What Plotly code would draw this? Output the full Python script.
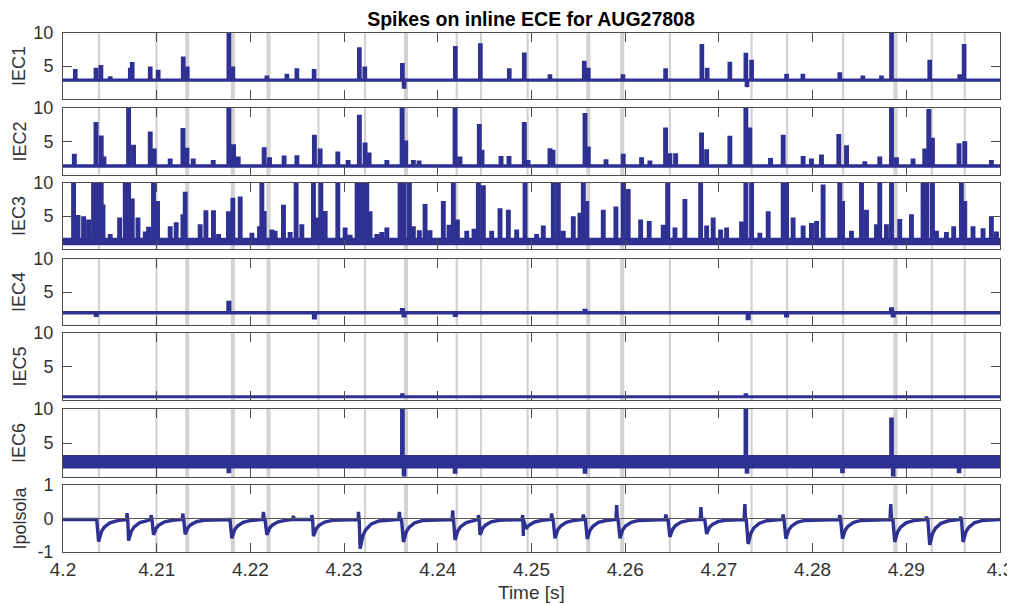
import plotly.graph_objects as go
from plotly.subplots import make_subplots

# ---------------- data ----------------
t_start, t_end = 4.2, 4.3
channel_names = ["IEC1", "IEC2", "IEC3", "IEC4", "IEC5", "IEC6", "Ipolsola"]
x_title = "Time [s]"
plot_title = "Spikes on inline ECE for AUG27808"

x_tick_vals = [4.2, 4.21, 4.22, 4.23, 4.24, 4.25, 4.26, 4.27, 4.28, 4.29, 4.3]
x_tick_text = ["4.2", "4.21", "4.22", "4.23", "4.24", "4.25", "4.26", "4.27", "4.28", "4.29", "4.3"]
iec_tick_vals = [5, 10]
ipol_tick_vals = [-1, 0, 1]
ipol_tick_text = ["-1", "0", "1"]

# ELM marker times (grey vertical lines); close pairs show as the thicker lines
elm_times = [4.20384, 4.20998, 4.21316, 4.21336, 4.21803, 4.21823, 4.22183, 4.22203,
             4.22726, 4.23224, 4.23651, 4.23671, 4.24202, 4.24461, 4.24959, 4.25275,
             4.25596, 4.25616, 4.25958, 4.25978, 4.26477, 4.27349, 4.27728, 4.28326,
             4.28874, 4.28894, 4.29272, 4.29624]

iec1_base = 2.85
iec1_t = [4.20131, 4.20352, 4.20405, 4.20504, 4.20718, 4.20739, 4.20931, 4.21016, 4.21283,
          4.21326, 4.21770, 4.21813, 4.22176, 4.22389, 4.22496, 4.22680, 4.23163, 4.23221,
          4.23622, 4.23640, 4.24187, 4.24454, 4.24763, 4.24923, 4.25197, 4.25563, 4.25606,
          4.25976, 4.26431, 4.26818, 4.26875, 4.27117, 4.27288, 4.27300, 4.27349, 4.27722,
          4.27896, 4.28290, 4.28536, 4.28735, 4.28842, 4.29250, 4.29570, 4.29617]
iec1_v = [4.3, 4.5, 4.9, 3.2, 4.5, 5.35, 4.7, 4.2, 6.2,
          4.7, 9.75, 4.7, 3.3, 3.6, 4.4, 4.3, 7.6, 4.7,
          5.2, 1.8, 7.8, 8.2, 4.4, 6.8, 3.5, 5.55, 4.5,
          3.5, 4.4, 8.1, 4.5, 5.4, 7.0, 1.8, 5.7, 3.6,
          3.6, 3.8, 3.3, 3.3, 10.3, 5.7, 3.5, 8.1]

iec2_base = 1.35
iec2_t = [4.20121, 4.20352, 4.20408, 4.20437, 4.20700, 4.20753, 4.20931, 4.20974, 4.21144,
          4.21280, 4.21323, 4.21390, 4.21603, 4.21770, 4.21820, 4.21870, 4.22147, 4.22204,
          4.22360, 4.22496, 4.22683, 4.22744, 4.22933, 4.23043, 4.23163, 4.23224, 4.23267,
          4.23456, 4.23619, 4.23658, 4.23739, 4.23800, 4.24184, 4.24237, 4.24443, 4.24472,
          4.24675, 4.24760, 4.24923, 4.24963, 4.25197, 4.25229, 4.25571, 4.25606, 4.25795,
          4.25979, 4.26175, 4.26264, 4.26431, 4.26477, 4.26538, 4.26815, 4.26869, 4.27117,
          4.27288, 4.27330, 4.27551, 4.27686, 4.27899, 4.27988, 4.28095, 4.28280, 4.28362,
          4.28557, 4.28717, 4.28842, 4.28895, 4.29072, 4.29197, 4.29240, 4.29279, 4.29563,
          4.29624, 4.29908]
iec2_v = [2.9, 7.65, 5.65, 2.5, 10.3, 4.25, 6.25, 3.7, 2.2,
          6.75, 3.8, 2.2, 2.0, 10.3, 4.35, 2.5, 3.9, 2.4,
          2.65, 2.7, 5.75, 3.7, 3.25, 2.0, 8.75, 4.6, 3.1,
          2.0, 10.3, 4.9, 2.0, 1.9, 10.3, 2.5, 7.35, 3.5,
          2.6, 2.6, 7.65, 2.0, 3.75, 3.5, 9.0, 4.0, 2.1,
          2.9, 2.4, 1.9, 6.85, 3.0, 3.0, 6.1, 3.6, 5.6,
          10.3, 6.85, 2.3, 5.75, 2.6, 2.2, 2.8, 5.85, 4.2,
          1.8, 2.5, 10.3, 2.4, 2.2, 3.7, 9.6, 5.3, 4.5,
          4.8, 2.0]

iec3_base = 1.15
iec3_t = [4.20113, 4.20142, 4.20160, 4.20220, 4.20273, 4.20326, 4.20360, 4.20408, 4.20427,
          4.20504, 4.20604, 4.20664, 4.20700, 4.20739, 4.20800, 4.20878, 4.20913, 4.20966,
          4.21009, 4.21144, 4.21208, 4.21280, 4.21304, 4.21464, 4.21525, 4.21606, 4.21660,
          4.21766, 4.21813, 4.21891, 4.22016, 4.22097, 4.22122, 4.22147, 4.22229, 4.22264,
          4.22353, 4.22424, 4.22488, 4.22549, 4.22673, 4.22700, 4.22752, 4.22798, 4.22933,
          4.23011, 4.23064, 4.23139, 4.23171, 4.23192, 4.23242, 4.23277, 4.23349, 4.23402,
          4.23456, 4.23597, 4.23640, 4.23697, 4.23739, 4.23803, 4.23864, 4.23917, 4.24059,
          4.24120, 4.24166, 4.24209, 4.24309, 4.24387, 4.24433, 4.24486, 4.24575, 4.24664,
          4.24753, 4.24842, 4.24931, 4.25055, 4.25126, 4.25233, 4.25286, 4.25339, 4.25446,
          4.25517, 4.25553, 4.25590, 4.25766, 4.25901, 4.25979, 4.26032, 4.26165, 4.26256,
          4.26406, 4.26453, 4.26531, 4.26637, 4.26805, 4.26869, 4.26939, 4.27018, 4.27082,
          4.27242, 4.27288, 4.27349, 4.27437, 4.27526, 4.27686, 4.27722, 4.27792, 4.27899,
          4.27988, 4.28042, 4.28112, 4.28290, 4.28320, 4.28415, 4.28522, 4.28575, 4.28682,
          4.28717, 4.28788, 4.28842, 4.28930, 4.29055, 4.29179, 4.29220, 4.29279, 4.29322,
          4.29428, 4.29506, 4.29588, 4.29624, 4.29712, 4.29819, 4.29908, 4.29962]
iec3_v = [10.5, 4.7, 4.9, 4.7, 4.2, 10.5, 10.5, 10.5, 6.5,
          2.0, 4.5, 10.5, 10.5, 7.4, 4.5, 2.4, 3.1, 10.5,
          7.0, 3.2, 3.8, 5.0, 8.4, 3.5, 5.6, 5.6, 2.0,
          5.45, 7.5, 7.7, 2.2, 3.2, 10.5, 5.5, 2.7, 2.5,
          6.45, 2.3, 10.5, 3.5, 10.5, 4.5, 10.5, 5.5, 10.5,
          3.0, 1.9, 10.5, 10.5, 10.5, 10.5, 5.45, 2.0, 2.3,
          3.0, 10.5, 10.5, 10.5, 3.2, 2.6, 6.55, 2.6, 7.0,
          3.4, 10.5, 4.2, 2.5, 2.8, 10.5, 9.4, 2.5, 5.9,
          5.7, 2.7, 10.5, 2.0, 3.3, 10.5, 10.5, 2.5, 4.7,
          5.25, 10.5, 7.0, 5.7, 6.2, 10.5, 8.85, 4.2, 4.0,
          3.4, 10.5, 3.0, 7.3, 10.5, 3.3, 4.5, 2.7, 3.0,
          3.9, 10.5, 10.5, 2.2, 5.45, 10.5, 10.5, 4.5, 3.3,
          3.7, 4.0, 9.5, 10.5, 7.0, 2.5, 9.75, 5.7, 3.5,
          10.3, 3.5, 10.5, 4.3, 5.0, 10.5, 10.5, 10.5, 2.5,
          2.3, 3.2, 10.5, 7.0, 3.2, 2.9, 4.7, 2.4]

iec4_base = 1.85
iec4_t = [4.20355, 4.21770, 4.22683, 4.23622, 4.23640, 4.24187, 4.25571, 4.27312, 4.27722,
          4.28842, 4.28860]
iec4_v = [1.5, 3.4, 1.1, 2.3, 1.4, 1.5, 2.2, 1.0, 1.4, 2.4, 1.4]

iec5_base = 0.5
iec5_t = [4.23622, 4.27288]
iec5_v = [0.8, 0.8]

iec6_base = 2.25
iec6_t = [4.21770, 4.23622, 4.23640, 4.24184, 4.25571, 4.27288, 4.27300, 4.28319, 4.28842,
          4.28860, 4.29563]
iec6_v = [0.8, 10.5, 0.3, 0.7, 0.7, 10.5, 0.5, 0.8, 8.5, 0.3, 0.8]

ipol_base = -0.03
ipol_dip_t = [4.20380, 4.20700, 4.20966, 4.21304, 4.21802, 4.22176, 4.22673, 4.23171,
              4.23633, 4.24184, 4.24451, 4.24913, 4.25251, 4.25595, 4.25944, 4.26477,
              4.26869, 4.27312, 4.27715, 4.28319, 4.28877, 4.29250, 4.29606]
ipol_dip_v = [-0.69, -0.66, -0.49, -0.47, -0.59, -0.49, -0.53, -0.90,
              -0.70, -0.64, -0.49, -0.52, -0.59, -0.61, -0.59, -0.55,
              -0.46, -0.76, -0.60, -0.60, -0.70, -0.79, -0.70]
ipol_pre_t = [4.20683, 4.20942, 4.21280, 4.22139, 4.22459, 4.22656, 4.23153, 4.23590,
              4.24160, 4.24433, 4.24906, 4.25215, 4.25553, 4.25909, 4.26434, 4.26808,
              4.27277, 4.27686, 4.28290, 4.28834, 4.29215, 4.29581]
ipol_pre_v = [0.16, 0.10, 0.15, 0.20, 0.08, 0.10, 0.20, 0.20,
              0.24, 0.10, 0.10, 0.15, 0.12, 0.40, 0.12, 0.34,
              0.43, 0.12, 0.10, 0.43, 0.05, 0.05]
# recovery after each dip: time after minimum and remaining fraction of the dip
ipol_rec_dt = [0.0003, 0.0006, 0.0012, 0.0020]
ipol_rec_frac = [0.55, 0.35, 0.15, 0.05]

# ---------------- style ----------------
BLUE = "#2e3192"
GREY = "#d2d2d2"
AX = "#4d4d4d"
TXT = "#333333"
FONT = "Liberation Sans, Arial, Helvetica, sans-serif"
SPIKE_HALF = 0.00008
FALL = 0.0002

# the page body has an 8 px margin, so the figure is placed 8 px in from the corner
PAGE_W, PAGE_H, OFF = 1015, 605, 8
W, H = PAGE_W - OFF, PAGE_H - OFF
plot_left, plot_right, plot_top, plot_bottom = 63 - OFF, 1000 - OFF, 33 - OFF, 552 - OFF
L, R, T, B = plot_left, W - plot_right, plot_top, H - plot_bottom
panel_px = [(33, 99), (108, 175), (183, 249), (259, 325), (333, 400), (409, 477), (485, 552)]
plot_h = plot_bottom - plot_top
plot_w = plot_right - plot_left


def spike_series(base, times, values):
    pts = [(t_start, base), (t_end, base)]
    for t, v in zip(times, values):
        pts += [(t - SPIKE_HALF, base), (t - SPIKE_HALF, v), (t + SPIKE_HALF, v),
                (t + SPIKE_HALF, base)]
    pts.sort(key=lambda p: p[0])
    return [p[0] for p in pts], [p[1] for p in pts]


def dip_series(base, dt_, dv_, pt_, pv_):
    pts = [(t_start, base), (t_end, base)]
    for t, v in zip(dt_, dv_):
        pts.append((t - FALL, base))
        pts.append((t, v))
        for d, f in zip(ipol_rec_dt, ipol_rec_frac):
            pts.append((t + d, base + (v - base) * f))
    for t, v in zip(pt_, pv_):
        pts += [(t - SPIKE_HALF, base), (t, v), (t + SPIKE_HALF, base)]
    pts.sort(key=lambda p: p[0])
    return [p[0] for p in pts], [p[1] for p in pts]


fig = make_subplots(rows=7, cols=1, shared_xaxes=True)

series = [
    (iec1_base, iec1_t, iec1_v, 3.2, None),
    (iec2_base, iec2_t, iec2_v, 3.4, None),
    (iec3_base, iec3_t, iec3_v, 3.4, 7.5),
    (iec4_base, iec4_t, iec4_v, 3.6, None),
    (iec5_base, iec5_t, iec5_v, 3.0, None),
    (iec6_base, iec6_t, iec6_v, 3.2, 13.5),
]
for i, (base, ts, vs, lw, band_w) in enumerate(series, start=1):
    if band_w:
        fig.add_trace(go.Scatter(x=[t_start, t_end], y=[base, base], mode="lines",
                                 line=dict(color=BLUE, width=band_w), showlegend=False,
                                 hoverinfo="skip"), row=i, col=1)
    xs, ys = spike_series(base, ts, vs)
    fig.add_trace(go.Scatter(x=xs, y=ys, mode="lines",
                             line=dict(color=BLUE, width=lw, simplify=False),
                             showlegend=False), row=i, col=1)

xs, ys = dip_series(ipol_base, ipol_dip_t, ipol_dip_v, ipol_pre_t, ipol_pre_v)
fig.add_trace(go.Scatter(x=xs, y=ys, mode="lines",
                         line=dict(color=BLUE, width=3.4, simplify=False),
                         showlegend=False), row=7, col=1)


def py(page_y):
    """page pixel row -> paper fraction"""
    return (plot_bottom - (page_y - OFF)) / plot_h


def px(page_x):
    """page pixel column -> paper fraction"""
    return ((page_x - OFF) - plot_left) / plot_w


shapes = []
annotations = []
for i in range(1, 8):
    top, bot = panel_px[i - 1]
    dom = [py(bot), py(top)]
    yname = "yaxis" if i == 1 else f"yaxis{i}"
    xname = "xaxis" if i == 1 else f"xaxis{i}"
    yref = "y" if i == 1 else f"y{i}"
    xref = "x" if i == 1 else f"x{i}"
    if i < 7:
        yax = dict(range=[0, 10], tickvals=iec_tick_vals, ticktext=[str(v) for v in iec_tick_vals])
    else:
        yax = dict(range=[-1, 1], tickvals=ipol_tick_vals, ticktext=ipol_tick_text)
    yax.update(domain=dom, showgrid=False, zeroline=False, showline=True, linecolor=AX,
               linewidth=1, mirror="ticks", ticks="inside", ticklen=9, tickcolor=AX,
               ticklabelstandoff=5,
               tickfont=dict(family=FONT, size=18, color=TXT), fixedrange=True)
    fig.layout[yname].update(yax)
    xax = dict(range=[t_start, t_end], tickvals=x_tick_vals, showgrid=False, zeroline=False,
               showline=True, linecolor=AX, linewidth=1, mirror="ticks", ticks="inside",
               ticklen=9, tickcolor=AX, showticklabels=(i == 7))
    if i == 7:
        xax.update(ticktext=x_tick_text, tickfont=dict(family=FONT, size=19, color=TXT))
    fig.layout[xname].update(xax)
    for t in elm_times:
        shapes.append(dict(type="line", xref=xref, yref=f"{yref} domain", x0=t, x1=t,
                           y0=0, y1=1, line=dict(color=GREY, width=2.2), layer="below"))
    annotations.append(dict(text=channel_names[i - 1], xref="paper", yref="paper",
                            x=px(19), y=(dom[0] + dom[1]) / 2,
                            textangle=-90, showarrow=False, xanchor="center",
                            yanchor="middle",
                            font=dict(family=FONT, size=18, color=TXT)))

annotations.append(dict(text=x_title, xref="paper", yref="paper",
                        x=px(531), y=py(592), showarrow=False, xanchor="center",
                        yanchor="middle", font=dict(family=FONT, size=19, color=TXT)))

shapes.append(dict(type="line", xref="x7", yref="y7", x0=t_start, x1=t_end, y0=0, y1=0,
                   line=dict(color="#5a5a5a", width=1), layer="above"))

fig.update_layout(
    width=W, height=H, margin=dict(l=L, r=R, t=T, b=B, autoexpand=False),
    paper_bgcolor="white", plot_bgcolor="white",
    shapes=shapes, annotations=annotations,
    title=dict(text=f"<b>{plot_title}</b>", x=px(531),
               xref="paper", y=1 - (19 - OFF) / H, yref="container", xanchor="center",
               yanchor="middle", font=dict(family=FONT, size=19.5, color="#000000")),
    showlegend=False,
)

fig.write_html("out.html")
